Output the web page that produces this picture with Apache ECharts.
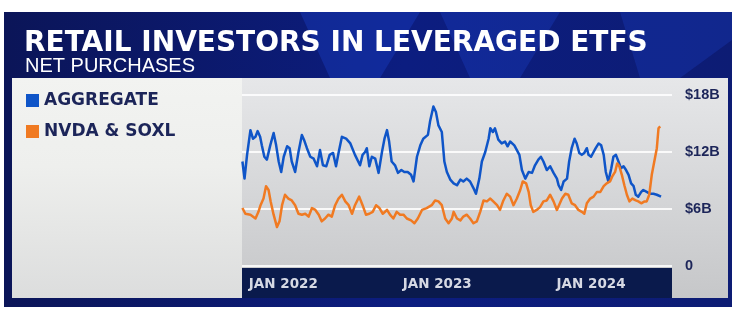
<!DOCTYPE html>
<html>
<head>
<meta charset="utf-8">
<style>
  html, body { margin: 0; padding: 0; background: #fff; }
  #chart { width: 743px; height: 313px; }
</style>
<script src="https://cdn.jsdelivr.net/npm/echarts@6/dist/echarts.min.js"></script>
</head>
<body>
<div id="chart"></div>
<script>
// net purchases, $B (weekly-ish samples)
const aggDates = [
  '2021-09-26', '2021-10-01', '2021-10-07', '2021-10-15', '2021-10-21', '2021-10-27', '2021-11-01', '2021-11-07',
  '2021-11-11', '2021-11-17', '2021-11-23', '2021-12-01', '2021-12-09', '2021-12-15', '2021-12-21', '2021-12-27',
  '2022-01-02', '2022-01-10', '2022-01-16', '2022-01-21', '2022-01-29', '2022-02-06', '2022-02-14', '2022-02-19',
  '2022-02-26', '2022-03-06', '2022-03-14', '2022-03-22', '2022-03-29', '2022-04-05', '2022-04-13', '2022-04-21',
  '2022-04-29', '2022-05-06', '2022-05-12', '2022-05-20', '2022-05-30', '2022-06-09', '2022-06-20', '2022-07-02',
  '2022-07-08', '2022-07-14', '2022-07-18', '2022-07-24', '2022-07-30', '2022-08-07', '2022-08-15', '2022-08-23',
  '2022-08-29', '2022-09-04', '2022-09-09', '2022-09-15', '2022-09-23', '2022-09-30', '2022-10-08', '2022-10-15',
  '2022-10-23', '2022-10-31', '2022-11-06', '2022-11-14', '2022-11-22', '2022-11-29', '2022-12-10', '2022-12-15',
  '2022-12-23', '2022-12-29', '2023-01-04', '2023-01-12', '2023-01-18', '2023-01-24', '2023-02-01', '2023-02-09',
  '2023-02-17', '2023-02-25', '2023-03-04', '2023-03-12', '2023-03-20', '2023-03-28', '2023-04-03', '2023-04-11',
  '2023-04-17', '2023-04-25', '2023-05-03', '2023-05-07', '2023-05-13', '2023-05-18', '2023-05-26', '2023-06-03',
  '2023-06-11', '2023-06-17', '2023-06-23', '2023-07-03', '2023-07-09', '2023-07-15', '2023-07-21', '2023-07-29',
  '2023-08-06', '2023-08-14', '2023-08-21', '2023-08-29', '2023-09-04', '2023-09-10', '2023-09-18', '2023-09-26',
  '2023-10-04', '2023-10-12', '2023-10-16', '2023-10-22', '2023-10-28', '2023-11-05', '2023-11-10', '2023-11-16',
  '2023-11-23', '2023-11-28', '2023-12-04', '2023-12-10', '2023-12-16', '2023-12-22', '2023-12-26', '2024-01-01',
  '2024-01-07', '2024-01-12', '2024-01-19', '2024-01-25', '2024-01-31', '2024-02-05', '2024-02-11', '2024-02-18',
  '2024-02-23', '2024-02-29', '2024-03-06', '2024-03-12', '2024-03-18', '2024-03-24', '2024-03-30', '2024-04-05',
  '2024-04-11', '2024-04-16', '2024-04-22', '2024-04-29', '2024-05-04', '2024-05-12', '2024-05-20', '2024-05-28',
  '2024-06-05', '2024-06-15'
]
const aggValues = [
  11.0, 9.2, 11.7, 14.3, 13.4, 13.6, 14.2, 13.6,
  12.7, 11.5, 11.2, 12.7, 14.0, 12.7, 11.0, 9.9,
  11.5, 12.6, 12.4, 11.0, 9.9, 12.0, 13.8, 13.3,
  12.4, 11.5, 11.3, 10.5, 12.2, 10.6, 10.5, 11.7,
  11.9, 10.5, 11.9, 13.6, 13.4, 12.9, 11.7, 10.6,
  11.7, 12.0, 12.4, 10.5, 11.5, 11.3, 9.8, 12.0,
  13.4, 14.3, 13.1, 11.0, 10.6, 9.8, 10.1, 9.9,
  9.9, 9.6, 8.9, 11.5, 12.7, 13.4, 13.8, 15.2,
  16.8, 16.2, 14.8, 14.1, 11.0, 9.9, 9.1, 8.7,
  8.5, 9.1, 8.9, 9.2, 8.9, 8.2, 7.6, 9.2,
  11.0, 12.0, 13.4, 14.5, 14.1, 14.5, 13.3, 12.9,
  13.1, 12.6, 13.1, 12.7, 12.2, 11.7, 10.1, 9.2,
  9.9, 9.8, 10.6, 11.2, 11.5, 11.0, 10.1, 10.5,
  9.8, 9.2, 8.5, 8.0, 8.9, 9.2, 11.0, 12.4,
  13.4, 12.9, 11.9, 11.7, 11.9, 12.4, 11.7, 11.5,
  12.0, 12.4, 12.9, 12.7, 11.7, 9.9, 8.9, 10.3,
  11.5, 11.7, 11.0, 10.3, 10.5, 10.1, 9.6, 8.7,
  8.4, 7.5, 7.3, 7.8, 8.0, 7.8, 7.6, 7.6,
  7.5, 7.3
]

const nvdaDates = [
  '2021-09-26', '2021-10-03', '2021-10-15', '2021-10-27', '2021-11-03', '2021-11-08', '2021-11-15', '2021-11-21',
  '2021-11-27', '2021-12-02', '2021-12-09', '2021-12-17', '2021-12-23', '2021-12-29', '2022-01-05', '2022-01-13',
  '2022-01-21', '2022-01-29', '2022-02-06', '2022-02-14', '2022-02-22', '2022-03-02', '2022-03-10', '2022-03-18',
  '2022-03-26', '2022-04-02', '2022-04-10', '2022-04-18', '2022-04-26', '2022-05-04', '2022-05-12', '2022-05-20',
  '2022-05-28', '2022-06-05', '2022-06-13', '2022-06-20', '2022-06-30', '2022-07-08', '2022-07-16', '2022-07-24',
  '2022-08-01', '2022-08-09', '2022-08-17', '2022-08-25', '2022-09-04', '2022-09-11', '2022-09-19', '2022-09-27',
  '2022-10-05', '2022-10-13', '2022-10-21', '2022-10-31', '2022-11-08', '2022-11-16', '2022-11-26', '2022-12-07',
  '2022-12-19', '2022-12-27', '2023-01-04', '2023-01-12', '2023-01-20', '2023-01-28', '2023-02-05', '2023-02-09',
  '2023-02-17', '2023-02-25', '2023-03-04', '2023-03-12', '2023-03-20', '2023-03-28', '2023-04-05', '2023-04-13',
  '2023-04-21', '2023-04-29', '2023-05-07', '2023-05-14', '2023-05-23', '2023-05-30', '2023-06-07', '2023-06-15',
  '2023-06-23', '2023-07-01', '2023-07-09', '2023-07-17', '2023-07-23', '2023-07-31', '2023-08-06', '2023-08-11',
  '2023-08-17', '2023-08-25', '2023-09-02', '2023-09-10', '2023-09-18', '2023-09-26', '2023-10-04', '2023-10-12',
  '2023-10-16', '2023-10-24', '2023-11-01', '2023-11-08', '2023-11-16', '2023-11-24', '2023-12-02', '2023-12-10',
  '2023-12-16', '2023-12-22', '2023-12-30', '2024-01-07', '2024-01-15', '2024-01-23', '2024-01-31', '2024-02-07',
  '2024-02-15', '2024-02-20', '2024-02-27', '2024-03-03', '2024-03-08', '2024-03-14', '2024-03-20', '2024-03-26',
  '2024-04-01', '2024-04-08', '2024-04-16', '2024-04-22', '2024-04-29', '2024-05-07', '2024-05-12', '2024-05-18',
  '2024-05-24', '2024-05-30', '2024-06-05', '2024-06-09', '2024-06-13'
]
const nvdaValues = [
  6.1, 5.5, 5.4, 5.0, 5.7, 6.4, 7.1, 8.4,
  8.0, 6.8, 5.4, 4.1, 4.7, 6.4, 7.5, 7.1,
  6.9, 6.4, 5.5, 5.4, 5.5, 5.2, 6.1, 5.9,
  5.4, 4.7, 5.0, 5.4, 5.2, 6.4, 7.1, 7.5,
  6.8, 6.4, 5.5, 6.4, 7.3, 6.4, 5.4, 5.5,
  5.7, 6.4, 6.1, 5.5, 5.9, 5.4, 5.0, 5.7,
  5.4, 5.4, 5.0, 4.8, 4.5, 5.0, 5.9, 6.1,
  6.4, 6.9, 6.8, 6.4, 5.0, 4.5, 5.0, 5.7,
  5.0, 4.8, 5.2, 5.4, 5.0, 4.5, 4.7, 5.7,
  6.9, 6.8, 7.1, 6.8, 6.4, 5.9, 6.9, 7.6,
  7.3, 6.4, 7.1, 8.0, 8.9, 8.7, 7.8, 6.4,
  5.7, 5.9, 6.2, 6.8, 6.9, 7.5, 6.8, 5.9,
  5.9, 7.1, 7.6, 7.5, 6.6, 6.4, 5.9, 5.7,
  5.5, 6.6, 7.1, 7.3, 7.8, 7.8, 8.4, 8.7,
  8.9, 9.4, 9.9, 10.8, 10.5, 9.6, 8.5, 7.5,
  6.8, 7.1, 6.9, 6.8, 6.6, 6.8, 6.8, 7.5,
  9.6, 11.0, 12.4, 14.5, 14.7
]

const xTickDates = ['2022-01-01', '2023-01-01', '2024-01-01']
const xTickLabels = ['JAN 2022', 'JAN 2023', 'JAN 2024']
const yTickValues = [0, 6, 12, 18]
const yTickLabels = ['0', '$6B', '$12B', '$18B']

const navy = '#1c2559'
const blue = '#0f55c8'
const orange = '#f07a22'

const chart = echarts.init(document.getElementById('chart'))
const toTime = d => echarts.time.parse(d).getTime()
const xTickTimes = xTickDates.map(toTime)

chart.setOption({
  animation: false,
  grid: { left: 242, right: 71, top: 95, bottom: 47 },
  graphic: [
    // dark frame
    {
      type: 'rect', z: -20, silent: true,
      shape: { x: 4, y: 12, width: 728, height: 295 },
      style: {
        fill: new echarts.graphic.LinearGradient(0, 0, 1, 0, [
          { offset: 0, color: '#0b1558' },
          { offset: 0.55, color: '#0c1d80' },
          { offset: 1, color: '#0d1c74' }
        ])
      }
    },
    {
      type: 'polygon', z: -19, silent: true,
      shape: { points: [[300, 12], [420, 12], [380, 78], [330, 78]] },
      style: { fill: 'rgba(30,70,210,0.35)' }
    },
    {
      type: 'polygon', z: -19, silent: true,
      shape: { points: [[440, 12], [560, 12], [520, 78], [470, 78]] },
      style: { fill: 'rgba(30,70,210,0.3)' }
    },
    {
      type: 'polygon', z: -19, silent: true,
      shape: { points: [[620, 12], [732, 12], [732, 40], [680, 78], [640, 78]] },
      style: { fill: 'rgba(30,70,210,0.28)' }
    },
    // light panel
    {
      type: 'rect', z: -18, silent: true,
      shape: { x: 12, y: 78, width: 716, height: 220 },
      style: {
        fill: new echarts.graphic.LinearGradient(0, 0, 0, 1, [
          { offset: 0, color: '#e6e7e9' },
          { offset: 1, color: '#c6c7c9' }
        ])
      }
    },
    {
      type: 'rect', z: -17, silent: true,
      shape: { x: 12, y: 78, width: 230, height: 220 },
      style: {
        fill: new echarts.graphic.LinearGradient(0, 0, 0, 1, [
          { offset: 0, color: '#f2f3f1' },
          { offset: 0.4, color: '#eeefed' },
          { offset: 1, color: '#dcdddd' }
        ])
      }
    },
    // x axis strip
    {
      type: 'rect', z: -16, silent: true,
      shape: { x: 242, y: 268, width: 430, height: 30 },
      style: { fill: '#0a1a4c' }
    },
    {
      type: 'text', left: 24, top: 30, z: 10,
      style: {
        text: 'RETAIL INVESTORS IN LEVERAGED ETFS',
        fill: '#ffffff',
        font: 'bold 28px "DejaVu Sans"'
      }
    },
    {
      type: 'text', left: 25, top: 56, z: 10,
      style: {
        text: 'NET PURCHASES',
        fill: '#ffffff',
        font: '20px "Liberation Sans"'
      }
    }
  ],
  legend: {
    orient: 'vertical',
    left: 26,
    top: 92,
    padding: 0,
    icon: 'rect',
    itemWidth: 13,
    itemHeight: 13,
    itemGap: 14,
    textStyle: {
      color: navy,
      fontFamily: 'DejaVu Sans',
      fontWeight: 'bold',
      fontSize: 17
    },
    data: ['AGGREGATE', 'NVDA & SOXL']
  },
  xAxis: {
    type: 'value',
    min: toTime('2021-09-25'),
    max: toTime('2024-07-11'),
    axisLine: { show: false },
    axisTick: { show: false },
    splitLine: { show: false },
    axisLabel: {
      customValues: xTickTimes,
      formatter: v => {
        const i = xTickTimes.indexOf(v)
        return i >= 0 ? xTickLabels[i] : ''
      },
      color: '#d6d9e4',
      fontFamily: 'DejaVu Sans',
      fontWeight: 'bold',
      fontSize: 13.5,
      margin: 11
    }
  },
  yAxis: {
    type: 'value',
    position: 'right',
    min: 0,
    max: 18,
    interval: 6,
    axisLine: { show: false },
    axisTick: { show: false },
    splitLine: {
      lineStyle: { color: 'rgba(255,255,255,0.85)', width: 2 }
    },
    axisLabel: {
      formatter: v => yTickLabels[yTickValues.indexOf(v)],
      color: navy,
      fontFamily: 'Liberation Sans',
      fontWeight: 'bold',
      fontSize: 14.5,
      margin: 13
    }
  },
  series: [
    {
      name: 'AGGREGATE',
      type: 'line',
      showSymbol: false,
      color: blue,
      lineStyle: { width: 2.5, join: 'round' },
      data: aggDates.map((d, i) => [toTime(d), aggValues[i]])
    },
    {
      name: 'NVDA & SOXL',
      type: 'line',
      showSymbol: false,
      color: orange,
      lineStyle: { width: 2.5, join: 'round' },
      data: nvdaDates.map((d, i) => [toTime(d), nvdaValues[i]])
    }
  ]
})
</script>
</body>
</html>
